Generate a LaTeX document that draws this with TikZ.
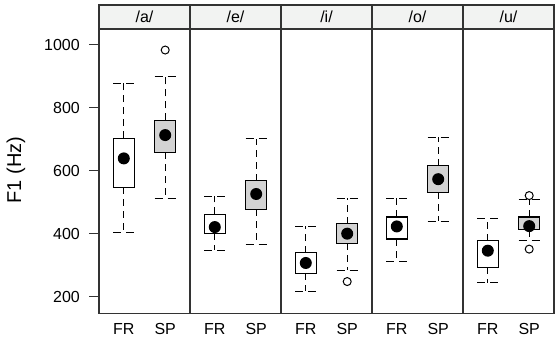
\documentclass[tikz,border=0pt]{standalone}
\usepackage{fontspec}
\setmainfont{Liberation Sans}
\definecolor{stripgray}{HTML}{F2F3F2}
\definecolor{boxgray}{HTML}{D3D3D3}
\definecolor{framegray}{HTML}{333333}
\tikzset{
    panel/.style={draw=framegray, line width=1.1pt},
    strip/.style={draw=framegray, fill=stripgray, line width=1.1pt},
    whisk/.style={line width=1pt, dash pattern=on 7pt off 5pt},
    capline/.style={line width=1pt, dash pattern=on 8pt off 5pt},
    boxfr/.style={draw, fill=white, line width=1.1pt},
    boxsp/.style={draw, fill=boxgray, line width=1.1pt},
    med/.style={circle, fill=black, inner sep=0pt, minimum size=12pt},
    outl/.style={circle, draw, inner sep=0pt, minimum size=8pt, line width=1pt},
    lab/.style={font=\fontsize{16}{19}\selectfont, inner sep=0pt}
}

\begin{document}
\begin{tikzpicture}
  [
    x = 1pt,
    y = 1pt,
  ]
  \useasboundingbox (0,0) rectangle (555,340);
  % panels and strips
  \foreach \i/\v in {0/a,1/e,2/i,3/o,4/u}{
    \draw [panel] (99+91*\i,26.7) rectangle (190+91*\i,311);
    \draw [strip] (99+91*\i,311) rectangle (190+91*\i,335);
    \node [lab] (s\v) at (144.5+91*\i,323) {/\v/};
    \node [lab] (fr\v) at (123.8+91*\i,11) {FR};
    \node [lab] (sp\v) at (165.2+91*\i,11) {SP};
  }
  \node [lab, font=\fontsize{20}{24}\selectfont, rotate=90] (ylab) at (16,170) {F1 (Hz)};
  \begin{scope}[y=0.315pt, yshift=-20pt]
    % y axis
    \foreach \t in {200,400,...,1000}{
      \draw [framegray, line width=1pt] (89,\t) -- (99,\t);
      \draw [framegray, line width=1pt] (554,\t) -- (558,\t);
      \node [lab, anchor=east] (t\t) at (80,\t) {\t};
    }
    % boxes
    \foreach \n/\x/\lo/\qa/\md/\qb/\hi/\st in {
        aF/123.8/405/549/640/704/878/boxfr, aS/165.2/513/659/714/761/899/boxsp,
        eF/214.8/348/403/422/462/520/boxfr, eS/256.2/368/478/527/569/702/boxsp,
        iF/305.8/218/275/308/340/425/boxfr, iS/347.2/285/371/401/433/513/boxsp,
        oF/396.8/312/384/424/454/513/boxfr, oS/438.2/440/532/574/617/707/boxsp,
        uF/487.8/245/294/347/379/448/boxfr, uS/529.2/378/413/425/454/508/boxsp}{
      \draw [whisk] (\x,\qb) -- (\x,\hi);
      \draw [whisk] (\x,\qa) -- (\x,\lo);
      \draw [capline] (\x-10.5,\hi) -- (\x+10.5,\hi);
      \draw [capline] (\x-10.5,\lo) -- (\x+10.5,\lo);
      \draw [\st] (\x-10.5,\qa) rectangle (\x+10.5,\qb);
      \node [med] (m\n) at (\x,\md) {};
    }
    % outliers
    \node [outl] (oaS) at (165.2,984) {};
    \node [outl] (oiS) at (347.2,249) {};
    \node [outl] (ouS1) at (529.2,522) {};
    \node [outl] (ouS2) at (529.2,352) {};
  \end{scope}
\end{tikzpicture}
\end{document}
